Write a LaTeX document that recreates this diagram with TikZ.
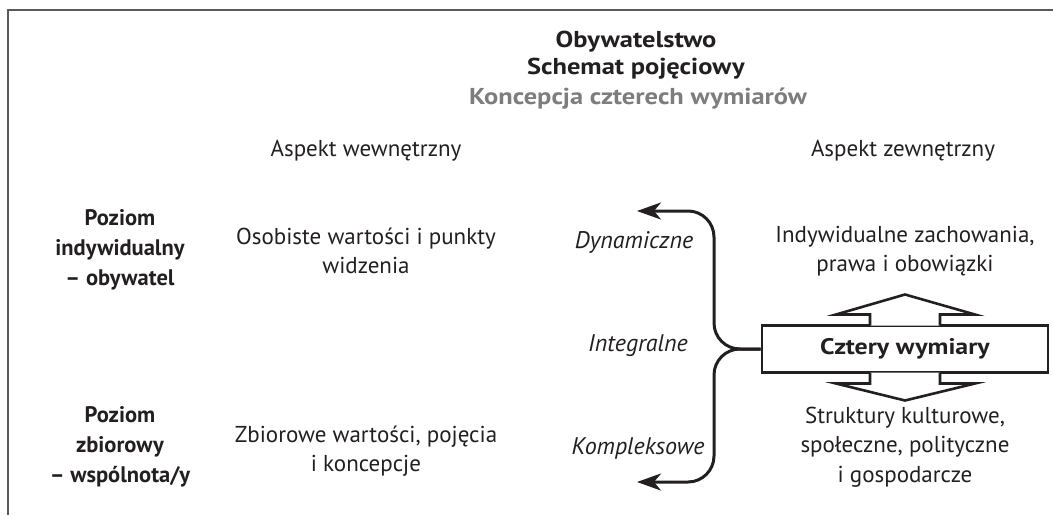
\documentclass[tikz,border=0pt]{standalone}
\usepackage{fontspec}
\setmainfont{PT Sans}
\newfontfamily\headfont[FakeStretch=1.15]{PT Sans}
\usepackage{tikz}
\usetikzlibrary{positioning}
\usetikzlibrary{calc}
\usetikzlibrary{arrows.meta}
\definecolor{ink}{RGB}{35,31,32}
\definecolor{framegray}{RGB}{90,90,90}
\definecolor{subgray}{RGB}{125,125,125}
\tikzset{
  txt/.style        = { align=center, inner sep=0pt, font=\fontsize{23}{29.5}\selectfont },
  heading/.style    = { txt, font=\fontsize{23}{27}\selectfont\headfont\bfseries },
  subheading/.style = { heading, text=subgray },
  level/.style      = { txt, font=\fontsize{22.5}{30}\selectfont\bfseries },
  quality/.style    = { txt, font=\fontsize{24}{29.5}\selectfont\itshape },
  dimbox/.style     = { txt, draw=ink, fill=white, line width=2.6pt, font=\fontsize{22.5}{29.5}\selectfont\headfont\bfseries,
                        minimum width=286pt, minimum height=47pt },
  bigarrow/.style   = { draw=ink, fill=white, line width=2.6pt, line join=miter },
  bracket/.style    = { draw=ink, line width=3pt, rounded corners=26pt },
  frameline/.style  = { draw=framegray, line width=2pt },
}

\begin{document}
\begin{tikzpicture}[
  x=1pt,y=-1pt,
  >={Stealth[length=24pt,width=17pt,inset=7pt]},
  text=ink,
]
  \useasboundingbox (0,0) rectangle (1053,515);
  \draw [frameline] (1053,10) -- (8,10) -- (8,515);

  \node (title)    [heading]                 at (636,55)  {Obywatelstwo\\Schemat pojęciowy};
  \node (concept)  [subheading]              at (638,99)  {Koncepcja czterech wymiarów};

  \node (inner)    [txt]                     at (366,151) {Aspekt wewnętrzny};
  \node (outer)    [txt]                     at (903,151) {Aspekt zewnętrzny};

  \node (indlevel) [level]                   at (120,250) {Poziom\\indywidualny\\– obywatel};
  \node (indinner) [txt]                     at (366,251) {Osobiste wartości i punkty\\widzenia};
  \node (indouter) [txt]                     at (905,251) {Indywidualne zachowania,\\prawa i obowiązki};

  \node (dims)     [dimbox]                  at (905,349) {Cztery wymiary};

  \node (collevel) [level]                   at (120,447) {Poziom\\zbiorowy\\– wspólnota/y};
  \node (colinner) [txt]                     at (366,451) {Zbiorowe wartości, pojęcia\\i koncepcje};
  \node (colouter) [txt]                     at (905,447) {Struktury kulturowe,\\społeczne, polityczne\\i gospodarcze};

  \node (dynamic)  [quality]                 at (634,242) {Dynamiczne};
  \node (integral) [quality]                 at (638,346) {Integralne};
  \node (complex)  [quality]                 at (638,448) {Kompleksowe};

  \coordinate (spine)  at (714,349);
  \coordinate (dynend) at (637,211);
  \coordinate (cplend) at (637,482);

  \draw [bracket,->] (dims.west) -- (spine) -- (spine |- dynend) -- (dynend);
  \draw [bracket,->] (dims.west) -- (spine) -- (spine |- cplend) -- (cplend);

  \draw [bigarrow] (dims.north) ++(-35,1.3) -- ++(0,-11) -- ++(-34,0) -- ++(69,-20)
                   -- ++(70,20) -- ++(-35,0) -- ++(0,11);
  \draw [bigarrow] (dims.south) ++(-35,-1.3) -- ++(0,11) -- ++(-34,0) -- ++(69,17)
                   -- ++(70,-17) -- ++(-35,0) -- ++(0,-11);
\end{tikzpicture}
\end{document}
